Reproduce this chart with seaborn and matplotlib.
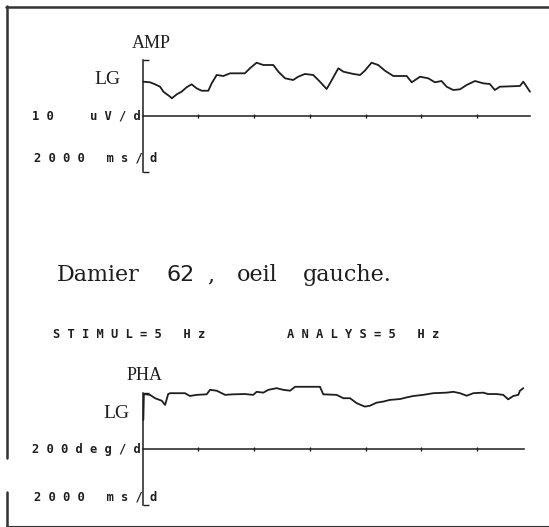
import matplotlib.pyplot as plt
from matplotlib.lines import Line2D
import seaborn as sns

W, H = 549, 527
INK = "#1e1e1e"

# AMP trace, left eye (time in s, amplitude in uV)
amp_time = [0.03, 0.27, 0.45, 0.63, 0.75, 0.99, 1.05, 1.23, 1.40, 1.58,
            1.76, 1.94, 2.12, 2.36, 2.48, 2.66, 2.90, 3.14, 3.67, 3.85,
            4.09, 4.33, 4.69, 4.87, 5.11, 5.40, 5.58, 5.82, 6.12, 6.36,
            6.60, 6.72, 7.02, 7.20, 7.56, 7.80, 7.97, 8.21, 8.45, 8.69,
            8.99, 9.47, 9.65, 9.95, 10.24, 10.48, 10.72, 10.90, 11.14, 11.38,
            11.62, 11.92, 12.21, 12.45, 12.63, 12.81, 13.53, 13.65, 13.77, 13.89]
amp_uv = [6.15, 6.04, 5.68, 5.25, 4.35, 3.46, 3.17, 3.89, 4.35, 5.14,
          5.68, 4.96, 4.53, 4.53, 5.86, 7.35, 7.17, 7.65, 7.65, 8.55,
          9.55, 9.14, 9.14, 7.94, 6.76, 6.45, 7.04, 7.53, 7.35, 6.15,
          4.84, 5.86, 8.55, 7.94, 7.53, 7.35, 8.12, 9.55, 9.14, 8.12,
          7.17, 7.17, 6.04, 7.04, 6.76, 6.04, 6.27, 5.25, 4.66, 4.78,
          5.56, 6.27, 5.86, 5.73, 4.66, 5.25, 5.38, 6.15, 5.25, 4.35]

# PHA trace, left eye (time in s, phase in deg)
pha_time = [0.03, 0.05, 0.27, 0.45, 0.69, 0.81, 0.92, 0.99, 1.52, 1.70,
            1.94, 2.30, 2.42, 2.66, 2.96, 3.25, 3.67, 3.97, 4.09, 4.33,
            4.51, 4.81, 5.05, 5.29, 5.47, 6.36, 6.48, 6.96, 7.20, 7.44,
            7.68, 7.97, 8.15, 8.39, 8.63, 8.87, 9.23, 9.47, 9.71, 10.06,
            10.42, 10.90, 11.14, 11.38, 11.62, 11.86, 12.21, 12.39, 12.69, 12.93,
            13.11, 13.29, 13.47, 13.53, 13.65]
pha_deg = [104, 197, 194, 182, 173, 158, 197, 200, 200, 190,
           194, 196, 212, 209, 194, 196, 197, 194, 205, 202,
           212, 218, 212, 209, 223, 223, 196, 194, 182, 182,
           164, 152, 155, 166, 170, 176, 179, 185, 190, 194,
           200, 202, 205, 200, 191, 200, 202, 197, 197, 194,
           178, 190, 194, 209, 218]

x_ticks = [2, 4, 6, 8, 10, 12]
amp_lim = (-10, 10)
pha_lim = (-200, 200)
time_span = 13.89


def px(x, y):
    return x / W, 1 - y / H


def spaced(s):
    # dot-matrix style labels: wide letter pitch
    return " ".join(s)


def setup(ax, ylim, x_end):
    ax.set_xlim(0, time_span)
    ax.set_ylim(*ylim)
    ax.patch.set_alpha(0)
    for side in ("top", "right"):
        ax.spines[side].set_visible(False)
    for side in ("left", "bottom"):
        ax.spines[side].set_position(("data", 0))
        ax.spines[side].set_color(INK)
        ax.spines[side].set_linewidth(1.1)
    ax.spines["left"].set_bounds(*ylim)
    ax.spines["bottom"].set_bounds(0, x_end)
    ax.set_xticks(x_ticks)
    ax.set_yticks(list(ylim))
    ax.tick_params(axis="x", bottom=True, direction="inout", length=3.5,
                   width=1, color=INK, labelbottom=False)
    ax.tick_params(axis="y", left=True, direction="in", length=4,
                   width=1, color=INK, labelleft=False)
    ax.set_xlabel("")
    ax.set_ylabel("")


sns.set_theme(style="white")

fig = plt.figure(figsize=(W / 100, H / 100), dpi=100)
fig.patch.set_facecolor("white")

left, width = 142.5 / W, 387.5 / W
ax_amp = fig.add_axes([left, 1 - 171.8 / H, width, 111.6 / H])
ax_pha = fig.add_axes([left, 1 - 504.8 / H, width, 111.6 / H])

sns.lineplot(x=amp_time, y=amp_uv, ax=ax_amp, sort=False, estimator=None,
             color=INK, linewidth=1.3, clip_on=False)
sns.lineplot(x=pha_time, y=pha_deg, ax=ax_pha, sort=False, estimator=None,
             color=INK, linewidth=1.3, clip_on=False)

setup(ax_amp, amp_lim, time_span)
setup(ax_pha, pha_lim, 13.67)

serif = "Liberation Serif"
mono = dict(family="DejaVu Sans Mono", fontsize=8.7, fontweight="bold", color=INK)

# top panel labels
fig.text(*px(151, 44), "AMP", family=serif, fontsize=13, color=INK, ha="center", va="center")
fig.text(*px(121, 80), "LG", family=serif, fontsize=14, color=INK, ha="right", va="center")
fig.text(*px(141, 116), spaced("10  uV/d"), ha="right", va="center", **mono)
fig.text(*px(34, 158), spaced("2000 ms/d"), ha="left", va="center", **mono)

# title
title_font = dict(family="DejaVu Serif", fontsize=16, color=INK, va="baseline")
fig.text(*px(57, 281), "Damier", **title_font)
fig.text(*px(167, 281), "62", family="DejaVu Sans", fontsize=16, color=INK, va="baseline")
fig.text(*px(207, 281), ",", **title_font)
fig.text(*px(237, 281), "oeil", **title_font)
fig.text(*px(303, 281), "gauche.", **title_font)

fig.text(*px(53, 335), spaced("STIMUL=5 Hz"), ha="left", va="center", **mono)
fig.text(*px(287, 335), spaced("ANALYS=5 Hz"), ha="left", va="center", **mono)

# bottom panel labels
fig.text(*px(145, 376), "PHA", family=serif, fontsize=13, color=INK, ha="center", va="center")
fig.text(*px(130, 413), "LG", family=serif, fontsize=14, color=INK, ha="right", va="center")
fig.text(*px(141, 449), spaced("200deg/d"), ha="right", va="center", **mono)
fig.text(*px(34, 497), spaced("2000 ms/d"), ha="left", va="center", **mono)

# frame of the printed sheet
frame = [((6, 549), (6.5, 6.5), 1.8), ((6.5, 6.5), (6, 458), 1.8),
         ((6.5, 6.5), (492, 527), 1.8), ((6, 549), (525.5, 525.5), 0.8)]
for xs, ys, lw in frame:
    fig.add_artist(Line2D([x / W for x in xs], [1 - y / H for y in ys],
                          color="#333333", linewidth=lw))

plt.savefig("out.png", dpi=100)
plt.close()
